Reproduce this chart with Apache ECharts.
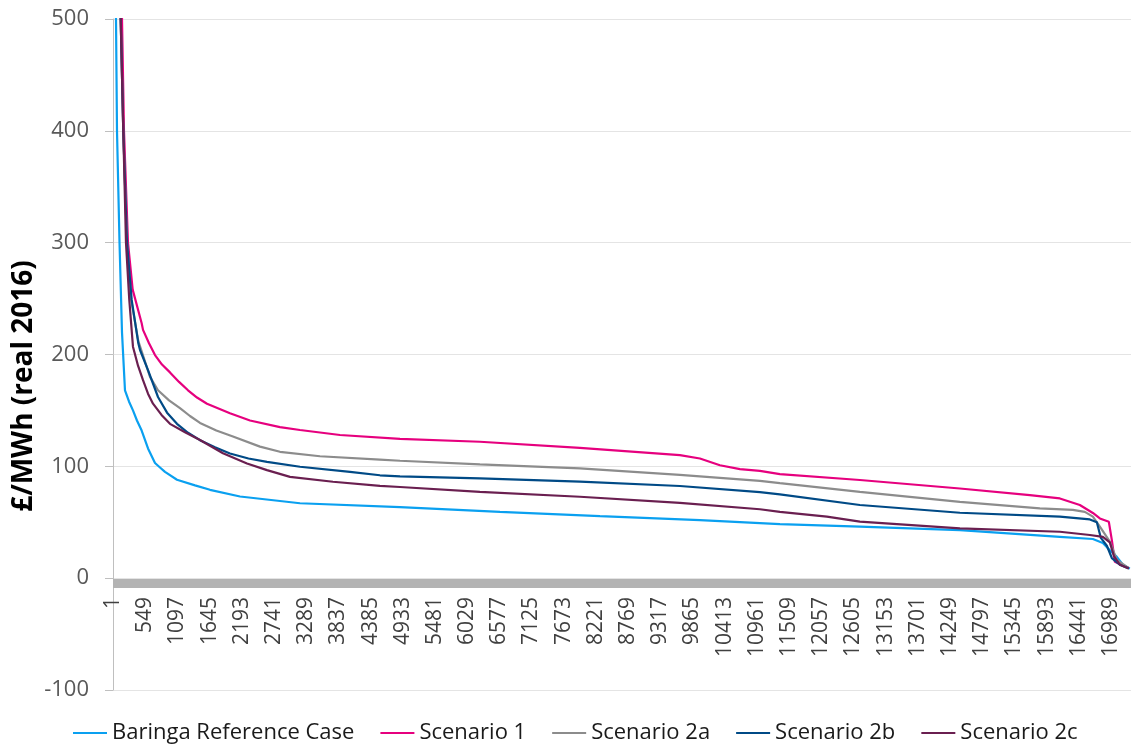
<!DOCTYPE html>
<html>
<head>
<meta charset="utf-8">
<script src="https://cdn.jsdelivr.net/npm/echarts@6/dist/echarts.min.js"></script>
<style>
  html, body { margin: 0; padding: 0; background: #ffffff; }
  #chart { width: 1131px; height: 746px; }
</style>
</head>
<body>
<div id="chart"></div>
<script>
// Hour index labels shown along the bottom of the price duration curve
const hourTicks = [1, 549, 1097, 1645, 2193, 2741, 3289, 3837, 4385, 4933, 5481, 6029, 6577, 7125,
  7673, 8221, 8769, 9317, 9865, 10413, 10961, 11509, 12057, 12605, 13153, 13701, 14249, 14797,
  15345, 15893, 16441, 16989];
const lastHour = 17330;

// Baringa Reference Case
const baringaHours  = [1, 52, 69, 112, 154, 205, 273, 341, 409, 489, 597, 716, 801, 886, 1090, 1397, 1652,
  2163, 3184, 4886, 6588, 8290, 9992, 11353, 12715, 14417, 16119, 16681, 16851, 16970, 17089, 17191, 17310];
const baringaPrices = [900, 500, 400, 300, 220, 168, 158, 150, 141, 132, 116, 103, 99, 95, 88, 83, 79,
  73, 67, 63.5, 59.3, 55.4, 51.9, 48.4, 46, 43, 37, 35, 31.5, 25, 19, 12, 8.5];

// Scenario 1
const s1Hours  = [1, 154, 188, 256, 336, 489, 512, 614, 716, 835, 971, 1125, 1278, 1431, 1601, 1992, 2333,
  2843, 3184, 3865, 4886, 6247, 7949, 9651, 9992, 10332, 10673, 11013, 11353, 12715, 14417, 15608, 16119,
  16459, 16681, 16800, 16953, 17004, 17055, 17174, 17293];
const s1Prices = [1500, 500, 400, 300, 258, 228, 222, 210, 199.5, 191, 184, 175.5, 168, 161.5, 156, 147.5, 141,
  135, 132.5, 128, 124.5, 122, 116.5, 110, 107, 101, 97.5, 96, 93, 87.8, 80.2, 74.2, 71.3,
  65.4, 58.3, 53.4, 50.4, 34, 14.7, 11.8, 9];

// Scenario 2a
const s2aHours  = [1, 132, 176, 239, 307, 432, 631, 767, 955, 1141, 1311, 1482, 1760, 2043, 2503, 2843, 3524,
  4545, 4886, 6247, 7949, 9651, 11013, 11353, 12715, 14417, 15779, 16340, 16544, 16681, 16800, 16970, 17089, 17293];
const s2aPrices = [2500, 500, 400, 300, 250, 212, 180, 168, 159, 152, 145, 138.8, 132, 126.6, 117.6, 113, 109,
  106, 105, 101.7, 98.2, 92.3, 87, 85, 77.2, 68.3, 62.4, 61, 59.3, 55, 46, 32.6, 16.3, 9];

// Scenario 2b
const s2bHours  = [1, 132, 176, 239, 319, 432, 461, 597, 767, 921, 1090, 1278, 1482, 1737, 1992, 2307, 2622,
  3184, 4035, 4545, 4886, 6247, 7949, 9651, 11013, 11353, 12715, 14417, 16119, 16630, 16749, 16817, 16919,
  17004, 17140, 17293];
const s2bPrices = [2500, 500, 400, 300, 248.8, 210, 204, 186, 162, 148, 138, 130, 123.4, 117, 111.5, 107, 104,
  99.6, 95, 92, 91, 89.3, 86.3, 82.4, 77, 75, 65.4, 58.5, 55, 52.5, 50, 36, 29,
  18, 12, 8.7];

// Scenario 2c
const s2cHours  = [1, 132, 176, 222, 278, 341, 427, 512, 597, 682, 827, 971, 1227, 1482, 1873, 2282, 2622, 3014,
  3745, 4545, 4886, 6247, 7949, 9651, 11013, 11353, 12153, 12715, 14417, 16119, 16630, 16851, 16970, 17038,
  17140, 17293];
const s2cPrices = [2500, 500, 400, 300, 249, 207, 190, 177, 165, 156, 146, 138, 130.5, 123.6, 111.7, 102.6, 96.6, 90.6,
  86.2, 82.5, 81.5, 77.2, 72.8, 67.4, 61.6, 59.3, 55, 50.5, 44.5, 41.5, 38.6, 37, 32, 20,
  12, 8.7];

const seriesNames  = ['Baringa Reference Case', 'Scenario 1', 'Scenario 2a', 'Scenario 2b', 'Scenario 2c'];
const seriesColors = ['#0aa0f0', '#e6007e', '#8c8c8c', '#004a86', '#6a1f50'];
const seriesHours  = [baringaHours, s1Hours, s2aHours, s2bHours, s2cHours];
const seriesPrices = [baringaPrices, s1Prices, s2aPrices, s2bPrices, s2cPrices];

const FONT = 'Open Sans';

const chart = echarts.init(document.getElementById('chart'), null, { renderer: 'canvas' });

chart.setOption({
  animation: false,
  backgroundColor: '#ffffff',
  grid: { left: 113, right: 0, top: 19, bottom: 56, outerBoundsMode: 'none' },
  legend: {
    data: seriesNames,
    left: 73,
    top: 722,
    padding: 0,
    icon: 'rect',
    itemWidth: 34,
    itemHeight: 2,
    itemGap: 26,
    textStyle: { fontFamily: FONT, fontSize: 22, color: '#1a1a1a' }
  },
  xAxis: {
    type: 'value',
    min: 1,
    max: lastHour,
    position: 'bottom',
    // the category line sits on the zero price level, just under the 0 gridline
    offset: -107,
    axisLine: { onZero: false, lineStyle: { color: '#b3b3b3', width: 9, cap: 'butt' } },
    axisTick: { show: false },
    splitLine: { show: false },
    axisLabel: {
      customValues: hourTicks,
      formatter: (v) => String(v),
      rotate: 90,
      margin: 14,
      fontFamily: FONT,
      fontSize: 21,
      color: '#404040'
    }
  },
  yAxis: {
    type: 'value',
    min: -100,
    max: 500,
    interval: 100,
    axisLine: { show: true, lineStyle: { color: '#bfbfbf', width: 1 } },
    axisTick: { show: true, length: 8, lineStyle: { color: '#bfbfbf' } },
    splitLine: { show: true, lineStyle: { color: '#e4e4e4', width: 1 } },
    axisLabel: { margin: 24, fontFamily: FONT, fontSize: 22, color: '#595959' }
  },
  graphic: [{
    type: 'text',
    x: 24,
    y: 386,
    rotation: Math.PI / 2,
    style: {
      text: '£/MWh (real 2016)',
      fontFamily: FONT,
      fontSize: 28,
      fontWeight: 'bold',
      fill: '#000000',
      align: 'center',
      verticalAlign: 'middle'
    }
  }],
  series: seriesNames.map((name, k) => ({
    name: name,
    type: 'line',
    symbol: 'none',
    clip: true,
    color: seriesColors[k],
    lineStyle: { width: 2.2, color: seriesColors[k] },
    data: seriesHours[k].map((h, i) => [h, seriesPrices[k][i]])
  }))
});
</script>
</body>
</html>
